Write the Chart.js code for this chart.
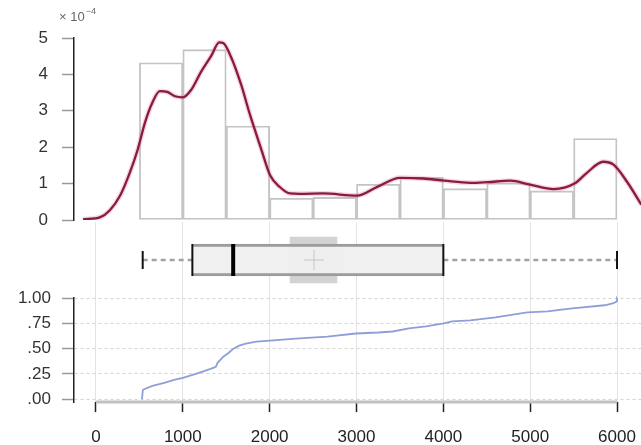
<!DOCTYPE html>
<html><head><meta charset="utf-8">
<script src="https://cdn.jsdelivr.net/npm/chart.js@4.4.1/dist/chart.umd.min.js"></script>
<style>
html,body{margin:0;padding:0;background:#fff;overflow:hidden;width:641px;height:445px;position:relative;}
canvas{position:absolute;left:0;}
</style></head><body>
<canvas id="c1" width="641" height="245" style="top:0px"></canvas>
<canvas id="c3" width="641" height="186" style="top:277px"></canvas>
<canvas id="c2" width="641" height="76" style="top:222px"></canvas>
<script>
// ---- data ----
const xTicks = [0, 1000, 2000, 3000, 4000, 5000, 6000];
const densTicks = [0, 1, 2, 3, 4, 5];
const ecdfTicks = [0, 0.25, 0.5, 0.75, 1];
const ecdfTickLabels = ['.00', '.25', '.50', '.75', '1.00'];
const expLabel = '× 10';
const expSup = '−4';

const binStarts = [500, 1000, 1500, 2000, 2500, 3000, 3500, 4000, 4500, 5000, 5500];
const binWidth = 500;
const histDensity = [4.32, 4.68, 2.58, 0.60, 0.62, 0.98, 1.17, 0.86, 1.02, 0.80, 2.24]; // x 1e-4

const densX = [-150, 50, 160, 280, 390, 480, 565, 645, 735, 820, 910, 1000, 1095, 1210, 1325, 1420, 1465, 1555, 1670, 1775, 1900, 2005, 2120, 2235, 2350, 2615, 3005, 3240, 3500, 3770, 4010, 4310, 4510, 4770, 5000, 5270, 5510, 5650, 5840, 5960, 6115, 6280];
const densY = [0.02, 0.08, 0.27, 0.68, 1.30, 1.93, 2.68, 3.20, 3.54, 3.52, 3.40, 3.37, 3.57, 4.07, 4.50, 4.88, 4.86, 4.48, 3.73, 2.88, 1.97, 1.23, 0.90, 0.73, 0.72, 0.73, 0.67, 0.91, 1.16, 1.14, 1.08, 1.02, 1.04, 1.08, 0.97, 0.85, 1.00, 1.29, 1.60, 1.52, 1.05, 0.42];

const boxWhiskerLow = 538, boxQ1 = 1110, boxMedian = 1580, boxQ3 = 4000, boxWhiskerHigh = 6000;
const boxMean = 2510, notchLow = 2235, notchHigh = 2775;

const ecdfX = [530, 540, 560, 650, 785, 900, 1000, 1150, 1254, 1350, 1380, 1400, 1466, 1530, 1583, 1650, 1724, 1850, 2006, 2300, 2664, 2993, 3250, 3416, 3604, 3800, 4003, 4100, 4309, 4600, 4966, 5200, 5483, 5858, 5960, 6000, 6000];
const ecdfY = [0, 0.09, 0.10, 0.13, 0.16, 0.19, 0.21, 0.25, 0.28, 0.31, 0.32, 0.36, 0.42, 0.46, 0.50, 0.53, 0.55, 0.57, 0.58, 0.60, 0.62, 0.65, 0.66, 0.67, 0.70, 0.72, 0.75, 0.77, 0.78, 0.81, 0.86, 0.87, 0.90, 0.93, 0.95, 0.97, 1.02];

const xMin = -253, xMax = 6276;
const ecdfMin = -0.03;
// ---------------------------------------

const FONT = 'Liberation Sans';
const setTicks = arr => s => { s.ticks = arr.map(v => ({value: v})); };
const fixW = s => { s.width = 74; };
const common = {responsive: false, animation: false, events: [], plugins: {legend: {display: false}, tooltip: {enabled: false}}};

const histData = binStarts.map((s, i) => ({x: s + binWidth / 2, y: histDensity[i]}));
const densData = densX.map((x, i) => ({x, y: densY[i]}));

const expPlugin = {
  id: 'expLabel',
  afterDraw(c) {
    const ctx = c.ctx;
    ctx.save();
    ctx.fillStyle = '#666';
    ctx.font = '13px ' + FONT;
    ctx.textBaseline = 'alphabetic';
    ctx.fillText(expLabel, 59, 21);
    const w = ctx.measureText(expLabel).width;
    ctx.font = '9px ' + FONT;
    ctx.fillText(expSup, 59 + w + 1, 14);
    ctx.restore();
  }
};

new Chart(document.getElementById('c1'), {
  type: 'bar',
  data: {datasets: [
    {type: 'line', data: densData, borderColor: '#8a1b3d', borderWidth: 2.3, pointRadius: 0, cubicInterpolationMode: 'monotone', order: 0},
    {type: 'line', data: densData, borderColor: 'rgba(225,140,170,0.35)', borderWidth: 5, pointRadius: 0, cubicInterpolationMode: 'monotone', order: 1},
    {type: 'bar', data: histData, backgroundColor: 'rgba(0,0,0,0)', borderColor: '#c4c4c4', borderWidth: 1.2, borderSkipped: false, barPercentage: 1, categoryPercentage: 1, order: 2}
  ]},
  options: Object.assign({}, common, {
    layout: {autoPadding: false, padding: {top: 38, bottom: 25, left: 0, right: 0}},
    scales: {
      x: {type: 'linear', min: xMin, max: xMax, offset: false, display: false, grid: {offset: false}, afterBuildTicks: setTicks(xTicks)},
      y: {type: 'linear', min: 0, max: 5, offset: false, afterBuildTicks: setTicks(densTicks), afterFit: fixW,
          grid: {drawOnChartArea: false, tickLength: 12, tickColor: '#999', tickWidth: 1.5},
          border: {color: '#222', width: 1.5},
          ticks: {padding: 14, color: '#333', font: {family: FONT, size: 17}, callback: v => String(v)}}
    }
  }),
  plugins: [expPlugin]
});

new Chart(document.getElementById('c2'), {
  type: 'bar',
  data: {datasets: [
    {type: 'line', data: [{x: boxMedian, y: 0}], pointStyle: 'line', rotation: 90, pointRadius: 16, borderColor: '#000', borderWidth: 4, showLine: false, order: 0},
    {type: 'line', data: [{x: boxQ1, y: 0}, {x: boxQ3, y: 0}], pointStyle: 'line', rotation: 90, pointRadius: 16, borderColor: '#111', borderWidth: 2, showLine: false, order: 0},
    {type: 'line', data: [{x: boxWhiskerLow, y: 0}, {x: boxWhiskerHigh, y: 0}], pointStyle: 'line', rotation: 90, pointRadius: 9, borderColor: '#111', borderWidth: 2, showLine: false, order: 0},
    {type: 'line', data: [{x: boxMean, y: 0}], pointStyle: 'cross', pointRadius: 10, borderColor: '#c4c4c4', borderWidth: 1, showLine: false, order: 1},
    {type: 'line', data: [{x: boxWhiskerLow, y: 0}, {x: boxQ1, y: 0}], borderColor: '#a2a2a2', borderWidth: 2.6, borderDash: [5, 4], pointRadius: 0, order: 3},
    {type: 'line', data: [{x: boxQ3, y: 0}, {x: boxWhiskerHigh, y: 0}], borderColor: '#a2a2a2', borderWidth: 2.6, borderDash: [5, 4], pointRadius: 0, order: 3},
    {type: 'bar', indexAxis: 'y', data: [{x: [boxQ1, boxQ3], y: 0}], barThickness: 32, backgroundColor: 'rgba(239,239,239,0.97)', borderColor: '#9c9c9c', borderWidth: {top: 3, bottom: 3, left: 0, right: 0}, borderSkipped: false, grouped: false, order: 4},
    {type: 'bar', indexAxis: 'y', data: [{x: [notchLow, notchHigh], y: 0}], barThickness: 46, backgroundColor: '#d3d3d3', borderWidth: 0, grouped: false, order: 5}
  ]},
  options: Object.assign({}, common, {
    layout: {autoPadding: false, padding: {top: 0, bottom: 0, left: 74, right: 0}},
    scales: {
      x: {type: 'linear', min: xMin, max: xMax, offset: false, afterBuildTicks: setTicks(xTicks),
          grid: {offset: false, color: '#e4e4e4', drawTicks: false}, border: {display: false}, ticks: {display: false}},
      y: {type: 'linear', min: -1, max: 1, offset: false, display: false, grid: {offset: false}}
    }
  })
});

new Chart(document.getElementById('c3'), {
  type: 'line',
  data: {datasets: [
    {data: ecdfX.map((x, i) => ({x, y: ecdfY[i]})), borderColor: '#8e9fd8', borderWidth: 1.8, pointRadius: 0, tension: 0, clip: 6},
    {data: [{x: xTicks[0], y: ecdfMin}, {x: xTicks[xTicks.length - 1], y: ecdfMin}], borderColor: '#c2c2c2', borderWidth: 3, pointRadius: 0, clip: 4}
  ]},
  options: Object.assign({}, common, {
    layout: {autoPadding: false, padding: {top: 21, bottom: 0, left: 0, right: 0}},
    scales: {
      x: {type: 'linear', min: xMin, max: xMax, offset: false, afterBuildTicks: setTicks(xTicks),
          grid: {color: '#e4e4e4', tickColor: '#222', tickLength: 10, tickWidth: 1.5},
          border: {display: false},
          ticks: {padding: 3, color: '#222', font: {family: FONT, size: 17, lineHeight: 2.64}, callback: v => String(v), maxRotation: 0, autoSkip: false}},
      y: {type: 'linear', min: ecdfMin, max: 1, afterBuildTicks: setTicks(ecdfTicks), afterFit: fixW,
          grid: {color: '#d4d4d4', tickColor: '#999', tickLength: 12, tickWidth: 1.5},
          border: {color: '#222', width: 1.5, dash: [3, 3]},
          ticks: {padding: 11, color: '#333', font: {family: FONT, size: 17}, callback: (v, i) => ecdfTickLabels[i]}}
    }
  })
});
</script>
</body></html>
